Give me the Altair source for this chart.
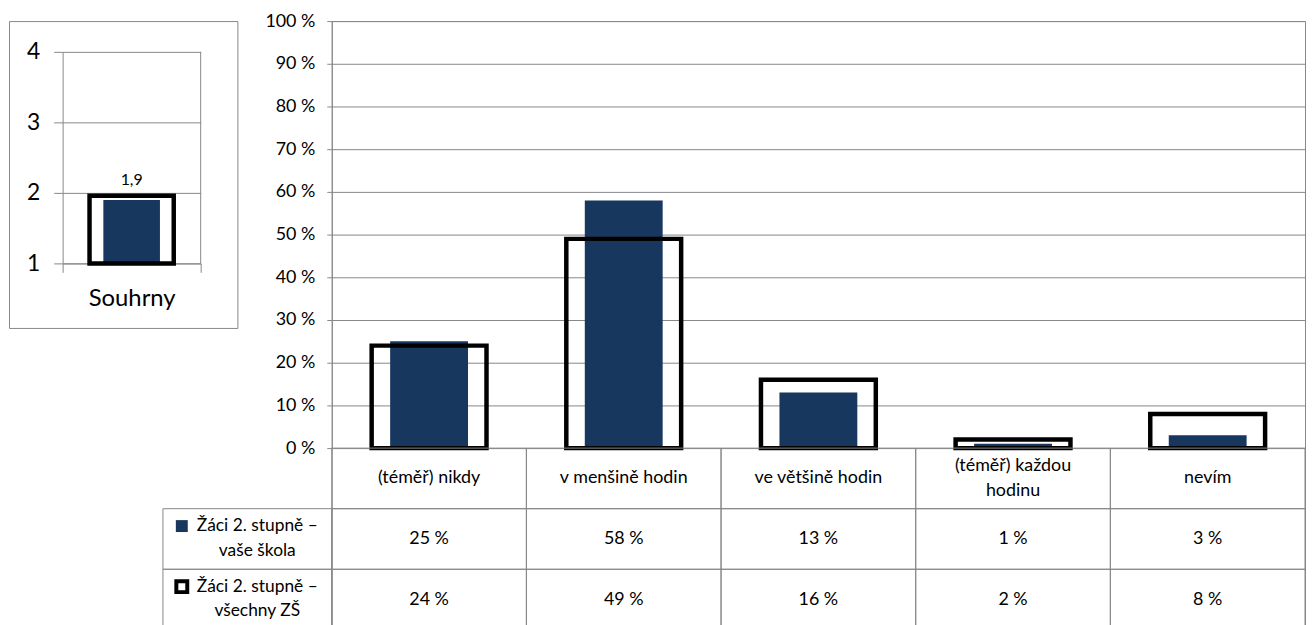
import altair as alt
import pandas as pd

# ---------------- data ----------------
categories = ["(téměř) nikdy", "v menšině hodin", "ve většině hodin",
              "(téměř) každou hodinu", "nevím"]
category_display = ["(téměř) nikdy", "v menšině hodin", "ve většině hodin",
                    "(téměř) každou\nhodinu", "nevím"]
school_pct = [25, 58, 13, 1, 3]
all_pct = [24, 49, 16, 2, 8]
series_names = ["Žáci 2. stupně –\nvaše škola", "Žáci 2. stupně –\nvšechny ZŠ"]
pct_ticks = [0, 10, 20, 30, 40, 50, 60, 70, 80, 90, 100]

summary_cat = ["Souhrny"]
summary_school = [1.9]
summary_all = [1.96]
summary_ticks = [1, 2, 3, 4]

table_rows = ["hdr", "r1", "r2"]

# ---------------- style ----------------
BLUE = "#17375E"
GRID = "#878787"
FONT = "Lato"

# ---------------- left panel (Souhrny) ----------------
sum_df = pd.DataFrame({
    "cat": summary_cat,
    "school": summary_school,
    "all": summary_all,
    "label": [f"{v:.1f}".replace(".", ",") for v in summary_school],
})

sx_scale = alt.Scale(domain=summary_cat, range=[54, 193], paddingInner=0, paddingOuter=0)
sx_axis = alt.Axis(orient="bottom", offset=-65, tickBand="extent", grid=False,
                   domainColor=GRID, tickColor=GRID, tickSize=9,
                   labelFont=FONT, labelFontSize=24, labelColor="black",
                   labelPadding=14, labelAngle=0, title=None)
sx = alt.X("cat:N", scale=sx_scale, axis=sx_axis)
sy_scale = alt.Scale(domain=[1, 4], range=[244, 31], nice=False, zero=False)
sy_axis = alt.Axis(values=summary_ticks, offset=-54, grid=True, gridColor=GRID,
                   domainColor=GRID, tickColor=GRID, tickSize=9, format="d",
                   labelFont=FONT, labelFontSize=23, labelColor="black",
                   labelPadding=14, title=None)

base_left = alt.Chart(sum_df)
left_edge = base_left.mark_rule(color=GRID, strokeWidth=1).encode(
    x=alt.X("cat:N", scale=sx_scale, bandPosition=1, axis=sx_axis),
    y=alt.Y("top:Q", scale=sy_scale, axis=sy_axis),
    y2=alt.datum(summary_ticks[0]),
).transform_calculate(top=str(summary_ticks[-1]))
left_bar = base_left.mark_bar(color=BLUE, width=alt.RelativeBandSize(0.41)).encode(
    x=sx, y=alt.Y("school:Q", scale=sy_scale, axis=sy_axis), y2=alt.datum(summary_ticks[0]))
left_outline = base_left.mark_bar(fillOpacity=0, stroke="black", strokeWidth=4.5,
                                  width=alt.RelativeBandSize(0.61)).encode(
    x=sx, y=alt.Y("all:Q", scale=sy_scale, axis=sy_axis), y2=alt.datum(summary_ticks[0]))
left_label = base_left.mark_text(dy=-15, baseline="alphabetic", font=FONT, fontSize=16,
                                 color="black").encode(
    x=sx, y=alt.Y("school:Q", scale=sy_scale, axis=sy_axis), text="label:N")

left = alt.layer(left_edge, left_bar, left_outline, left_label).properties(width=230, height=309)

# ---------------- main panel ----------------
main_df = pd.DataFrame({"cat": categories, "school": school_pct, "all": all_pct})

cell_rows = []
for i, c in enumerate(categories):
    cell_rows.append({"cat": c, "row": "hdr", "text": category_display[i]})
    cell_rows.append({"cat": c, "row": "r1", "text": f"{school_pct[i]} %"})
    cell_rows.append({"cat": c, "row": "r2", "text": f"{all_pct[i]} %"})
cells_df = pd.DataFrame(cell_rows)

hdr_df = pd.DataFrame({"col": ["hdr", "hdr"], "row": ["r1", "r2"], "text": series_names})

mx = alt.X("cat:N", sort=categories,
           scale=alt.Scale(domain=categories, paddingInner=0, paddingOuter=0), axis=None)
my_scale = alt.Scale(domain=[0, 100], range=[430, 0], nice=False)
my_axis = alt.Axis(values=pct_ticks, labelExpr="datum.value + ' %'", grid=True,
                   gridColor=GRID, domainColor=GRID, tickColor=GRID, tickSize=5,
                   labelFont=FONT, labelFontSize=18, labelColor="black",
                   labelPadding=12, title=None)
trow = alt.Y("row:N", sort=table_rows,
             scale=alt.Scale(domain=table_rows, range=[430, 613], paddingInner=0, paddingOuter=0),
             axis=None)
hx = alt.X("col:N", scale=alt.Scale(domain=["hdr"], range=[-170, 0], paddingInner=0, paddingOuter=0),
           axis=None)

bar_blue = alt.Chart(main_df).mark_bar(color=BLUE, width=alt.RelativeBandSize(0.4)).encode(
    x=mx, y=alt.Y("school:Q", scale=my_scale, axis=my_axis))
bar_outline = alt.Chart(main_df).mark_bar(fillOpacity=0, stroke="black", strokeWidth=4.5,
                                          width=alt.RelativeBandSize(0.59)).encode(
    x=mx, y=alt.Y("all:Q", scale=my_scale, axis=None))

is_multi = "indexof(datum.text, '\\n') >= 0"
cells_rect = alt.Chart(cells_df).mark_rect(fillOpacity=0, stroke=GRID, strokeWidth=1).encode(
    x=mx, y=trow)
cells_text1 = alt.Chart(cells_df).transform_filter("!(" + is_multi + ")").mark_text(
    font=FONT, fontSize=18, color="black").encode(x=mx, y=trow, text="text:N")
cells_text2 = alt.Chart(cells_df).transform_filter(is_multi).mark_text(
    font=FONT, fontSize=18, lineBreak="\n", lineHeight=25, dy=-12, color="black").encode(
    x=mx, y=trow, text="text:N")

hdr_rect = alt.Chart(hdr_df).mark_rect(fillOpacity=0, stroke=GRID, strokeWidth=1).encode(
    x=hx, y=trow)
hdr_text = alt.Chart(hdr_df).mark_text(font=FONT, fontSize=17.5, lineBreak="\n", lineHeight=25,
                                       color="black", dx=10, dy=-13).encode(
    x=hx, y=trow, text="text:N")
sym_school = alt.Chart(hdr_df).transform_filter(alt.datum.row == "r1").mark_point(
    shape="square", filled=True, color=BLUE, opacity=1, size=144,
    xOffset=-66, yOffset=-13).encode(x=hx, y=trow)
sym_all = alt.Chart(hdr_df).transform_filter(alt.datum.row == "r2").mark_point(
    shape="square", filled=False, stroke="black", strokeWidth=4, opacity=1, size=121,
    xOffset=-66, yOffset=-13).encode(x=hx, y=trow)

main = alt.layer(bar_blue, bar_outline, cells_rect, cells_text1, cells_text2,
                 hdr_rect, hdr_text, sym_school, sym_all).resolve_scale(
    x="independent", y="independent").properties(width=980, height=613)

chart = alt.hconcat(left, main, spacing=95, bounds="flush").properties(
    padding={"left": 0, "top": 1, "right": 0, "bottom": 0}
).configure_view(stroke=GRID, strokeWidth=1)

chart.save("out.html", embed_options={"renderer": "svg", "actions": False})
